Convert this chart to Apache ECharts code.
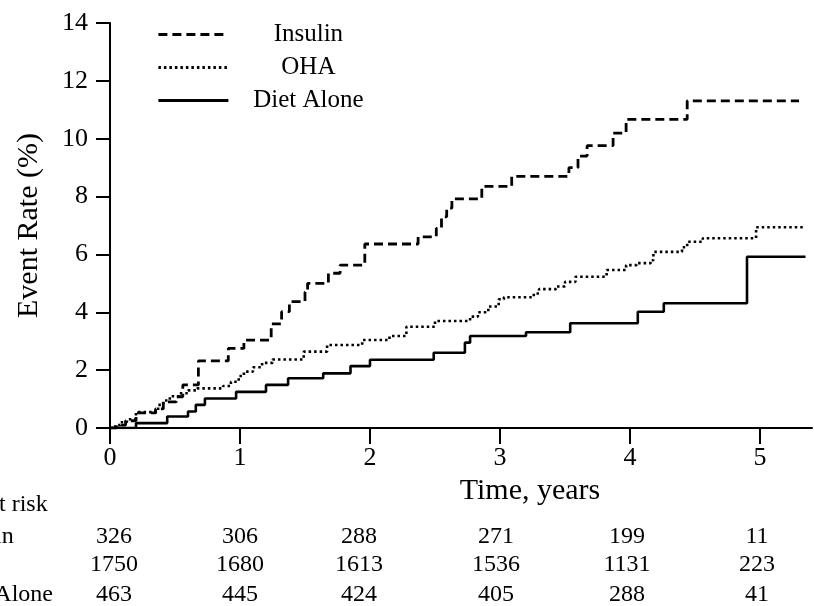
<!DOCTYPE html>
<html>
<head>
<meta charset="utf-8">
<script src="https://cdn.jsdelivr.net/npm/echarts@6/dist/echarts.min.js"></script>
<style>
html,body{margin:0;padding:0;background:#fff;}
#chart{width:814px;height:606px;}
</style>
</head>
<body>
<div id="chart"></div>
<script>
// ---- Data ----
var seriesNames = ['Insulin', 'OHA', 'Diet Alone'];
var insulin = [[0,0],[0.05,0.1],[0.12,0.25],[0.2,0.52],[0.35,0.66],[0.41,0.9],[0.51,1.08],[0.56,1.49],[0.68,2.32],[0.91,2.75],[1.03,3.04],[1.24,3.6],[1.32,4.02],[1.38,4.37],[1.5,4.7],[1.52,5.0],[1.68,5.35],[1.77,5.63],[1.96,6.36],[2.37,6.61],[2.51,6.9],[2.55,7.3],[2.59,7.6],[2.63,7.92],[2.86,8.35],[3.09,8.7],[3.53,9.0],[3.6,9.4],[3.67,9.76],[3.87,10.19],[3.97,10.67],[4.44,11.31],[5.3,11.31]];
var oha = [[0,0],[0.04,0.1],[0.08,0.2],[0.13,0.3],[0.2,0.55],[0.37,0.8],[0.41,0.95],[0.46,1.1],[0.53,1.2],[0.6,1.3],[0.67,1.37],[0.87,1.45],[0.93,1.6],[0.99,1.8],[1.03,1.95],[1.1,2.1],[1.17,2.25],[1.25,2.37],[1.49,2.64],[1.67,2.87],[1.94,3.04],[2.15,3.18],[2.28,3.5],[2.5,3.7],[2.77,3.85],[2.83,4.0],[2.91,4.2],[2.99,4.45],[3.03,4.52],[3.26,4.65],[3.3,4.8],[3.43,4.89],[3.5,5.05],[3.58,5.23],[3.82,5.46],[3.97,5.63],[4.05,5.7],[4.16,5.8],[4.18,6.09],[4.4,6.25],[4.44,6.44],[4.56,6.56],[4.97,6.94],[5.35,6.94]];
var dietAlone = [[0,0],[0.2,0.17],[0.44,0.4],[0.6,0.57],[0.66,0.8],[0.73,1.02],[0.97,1.25],[1.2,1.49],[1.37,1.72],[1.64,1.89],[1.85,2.14],[2.0,2.36],[2.49,2.6],[2.73,2.95],[2.77,3.18],[3.2,3.31],[3.54,3.62],[4.06,4.02],[4.26,4.31],[4.9,5.92],[5.35,5.92]];

var xTicks = [0, 1, 2, 3, 4, 5];

var atRiskTitle = 'No. at risk';
var atRiskLabels = ['Insulin', 'OHA', 'Diet Alone'];
var atRiskInsulin = [326, 306, 288, 271, 199, 11];
var atRiskOHA = [1750, 1680, 1613, 1536, 1131, 223];
var atRiskDiet = [463, 445, 424, 405, 288, 41];

var xAxisTitle = 'Time, years';
var yAxisTitle = 'Event Rate (%)';

// ---- Layout (not data) ----
var FONT = '"Liberation Serif", "Times New Roman", serif';
var colCenters = [114, 240, 359, 496, 627, 757];
var rowY = [537, 565, 595];
var headerY = 505;
var labelX = -53;

var chart = echarts.init(document.getElementById('chart'), null, {renderer: 'canvas'});

var graphics = [];
graphics.push({type: 'text', x: labelX, y: headerY,
  style: {text: atRiskTitle, font: '24px ' + FONT, fill: '#000', align: 'left', verticalAlign: 'middle', textAlign: 'left', textVerticalAlign: 'middle'}});
var rows = [atRiskInsulin, atRiskOHA, atRiskDiet];
rows.forEach(function (row, r) {
  graphics.push({type: 'text', x: labelX, y: rowY[r],
    style: {text: atRiskLabels[r], font: '24px ' + FONT, fill: '#000', align: 'left', verticalAlign: 'middle', textAlign: 'left', textVerticalAlign: 'middle'}});
  row.forEach(function (v, c) {
    graphics.push({type: 'text', x: colCenters[c], y: rowY[r],
      style: {text: String(v), font: '24px ' + FONT, fill: '#000', align: 'center', verticalAlign: 'middle', textAlign: 'center', textVerticalAlign: 'middle'}});
  });
});

function mkSeries(name, data, type, width) {
  return {
    name: name, type: 'line', step: 'end', data: data,
    symbol: 'none', showSymbol: false, silent: true,
    lineStyle: {color: '#000', width: width, type: type},
    itemStyle: {color: '#000'}
  };
}

var option = {
  animation: false,
  backgroundColor: '#fff',
  grid: {left: 110, top: 23, right: 2, bottom: 178, containLabel: false},
  legend: {
    orient: 'vertical', left: 157, top: 22, padding: 0,
    itemWidth: 70, itemHeight: 26, itemGap: 8,
    selectedMode: false,
    data: seriesNames,
    itemStyle: {opacity: 0},
    lineStyle: {width: 2.8},
    formatter: function (n) { return '{c|' + n + '}'; },
    textStyle: {
      color: '#000', fontFamily: FONT, fontSize: 25,
      rich: {c: {width: 150, align: 'center', fontFamily: FONT, fontSize: 25, color: '#000'}}
    }
  },
  xAxis: {
    type: 'value', min: 0, max: 5.4, interval: 1,
    name: xAxisTitle, nameLocation: 'middle', nameGap: 45,
    nameTextStyle: {fontFamily: FONT, fontSize: 30, color: '#000', padding: [0, 0, 0, 138]},
    axisLine: {show: true, lineStyle: {color: '#000', width: 2}},
    axisTick: {show: true, length: 16, customValues: xTicks, lineStyle: {color: '#000', width: 2}},
    axisLabel: {margin: 17, fontFamily: FONT, fontSize: 26, color: '#000', customValues: xTicks},
    splitLine: {show: false}
  },
  yAxis: {
    type: 'value', min: 0, max: 14, interval: 2,
    name: yAxisTitle, nameLocation: 'middle', nameGap: 66, nameRotate: 90,
    nameTextStyle: {fontFamily: FONT, fontSize: 30, color: '#000'},
    axisLine: {show: true, lineStyle: {color: '#000', width: 2}},
    axisTick: {show: true, length: 14, lineStyle: {color: '#000', width: 2}},
    axisLabel: {margin: 22, fontFamily: FONT, fontSize: 26, color: '#000'},
    splitLine: {show: false}
  },
  series: [
    mkSeries(seriesNames[0], insulin, [9, 5], 2.8),
    mkSeries(seriesNames[1], oha, [2.5, 3], 2.6),
    mkSeries(seriesNames[2], dietAlone, 'solid', 2.6)
  ],
  graphic: graphics
};
chart.setOption(option);
</script>
</body>
</html>
